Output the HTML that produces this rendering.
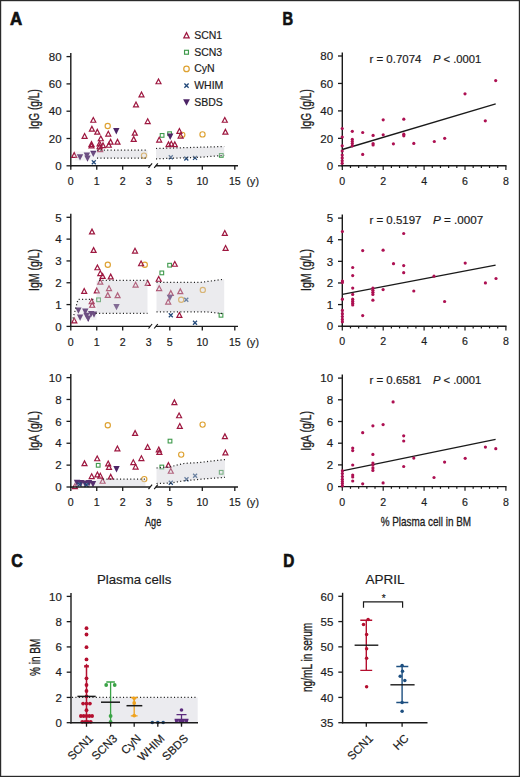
<!DOCTYPE html>
<html><head><meta charset="utf-8"><style>
html,body{margin:0;padding:0;background:#fff;}
body{width:520px;height:777px;overflow:hidden;}
svg{display:block;}
text{font-family:"Liberation Sans", sans-serif;fill:#1c1c1c;stroke:#1c1c1c;stroke-width:0.18px;}
text.cond{stroke:#1c1c1c;stroke-width:0.3px;}
text.pl{stroke:#111;stroke-width:0.7px;fill:#111;}
</style></head><body>
<svg width="520" height="777" viewBox="0 0 520 777">
<rect x="0" y="0" width="520" height="777" fill="#fff"/>
<text x="10.0" y="24.9" font-size="17.8" font-weight="bold" class="pl" textLength="12.2" lengthAdjust="spacingAndGlyphs">A</text>
<text x="282.4" y="24.9" font-size="17.8" font-weight="bold" class="pl" textLength="10.6" lengthAdjust="spacingAndGlyphs">B</text>
<text x="11.3" y="567.2" font-size="17.8" font-weight="bold" class="pl" textLength="11.5" lengthAdjust="spacingAndGlyphs">C</text>
<text x="283.2" y="567.2" font-size="17.8" font-weight="bold" class="pl" textLength="11.1" lengthAdjust="spacingAndGlyphs">D</text>
<path d="M70.8,53.10V166.5" stroke="#1a1a1a" stroke-width="1.4" fill="none"/>
<path d="M66.5,56.60H70.8" stroke="#1a1a1a" stroke-width="1.3"/>
<text x="61.60" y="60.80" font-size="11.5" text-anchor="end" >80</text>
<path d="M66.5,83.90H70.8" stroke="#1a1a1a" stroke-width="1.3"/>
<text x="61.60" y="88.10" font-size="11.5" text-anchor="end" >60</text>
<path d="M66.5,111.20H70.8" stroke="#1a1a1a" stroke-width="1.3"/>
<text x="61.60" y="115.40" font-size="11.5" text-anchor="end" >40</text>
<path d="M66.5,138.50H70.8" stroke="#1a1a1a" stroke-width="1.3"/>
<text x="61.60" y="142.70" font-size="11.5" text-anchor="end" >20</text>
<path d="M66.5,165.80H70.8" stroke="#1a1a1a" stroke-width="1.3"/>
<text x="61.60" y="170.00" font-size="11.5" text-anchor="end" >0</text>
<text x="0" y="0" font-size="14" text-anchor="middle" textLength="40" lengthAdjust="spacingAndGlyphs" class="cond" transform="translate(38.6,109.2) rotate(-90)">IgG (g/L)</text>
<rect x="160.25" y="133.55" width="3.7" height="3.7" fill="none" stroke="#3f9a4c" stroke-width="1.1"/>
<rect x="167.75" y="131.85" width="3.7" height="3.7" fill="none" stroke="#3f9a4c" stroke-width="1.1"/>
<rect x="219.45" y="153.55" width="3.7" height="3.7" fill="none" stroke="#3f9a4c" stroke-width="1.1"/>
<circle cx="107.70" cy="126.00" r="2.6" fill="none" stroke="#dea232" stroke-width="1.15"/>
<circle cx="144.00" cy="155.60" r="2.6" fill="none" stroke="#dea232" stroke-width="1.15"/>
<circle cx="202.50" cy="134.40" r="2.6" fill="none" stroke="#dea232" stroke-width="1.15"/>
<circle cx="182.30" cy="134.80" r="2.6" fill="none" stroke="#dea232" stroke-width="1.15"/>
<polygon points="90.80,122.25 95.80,122.25 93.30,117.45" fill="none" stroke="#9e1840" stroke-width="1.2" stroke-linejoin="miter"/>
<polygon points="89.40,131.15 94.40,131.15 91.90,126.35" fill="none" stroke="#9e1840" stroke-width="1.2" stroke-linejoin="miter"/>
<polygon points="94.80,134.15 99.80,134.15 97.30,129.35" fill="none" stroke="#9e1840" stroke-width="1.2" stroke-linejoin="miter"/>
<polygon points="82.10,138.35 87.10,138.35 84.60,133.55" fill="none" stroke="#9e1840" stroke-width="1.2" stroke-linejoin="miter"/>
<polygon points="105.80,136.05 110.80,136.05 108.30,131.25" fill="none" stroke="#9e1840" stroke-width="1.2" stroke-linejoin="miter"/>
<polygon points="98.30,140.75 103.30,140.75 100.80,135.95" fill="none" stroke="#9e1840" stroke-width="1.2" stroke-linejoin="miter"/>
<polygon points="108.10,144.15 113.10,144.15 110.60,139.35" fill="none" stroke="#9e1840" stroke-width="1.2" stroke-linejoin="miter"/>
<polygon points="115.00,144.15 120.00,144.15 117.50,139.35" fill="none" stroke="#9e1840" stroke-width="1.2" stroke-linejoin="miter"/>
<polygon points="89.00,146.45 94.00,146.45 91.50,141.65" fill="none" stroke="#9e1840" stroke-width="1.2" stroke-linejoin="miter"/>
<polygon points="89.00,147.95 94.00,147.95 91.50,143.15" fill="none" stroke="#9e1840" stroke-width="1.2" stroke-linejoin="miter"/>
<polygon points="97.10,145.85 102.10,145.85 99.60,141.05" fill="none" stroke="#9e1840" stroke-width="1.2" stroke-linejoin="miter"/>
<polygon points="97.10,148.75 102.10,148.75 99.60,143.95" fill="none" stroke="#9e1840" stroke-width="1.2" stroke-linejoin="miter"/>
<polygon points="100.50,147.65 105.50,147.65 103.00,142.85" fill="none" stroke="#9e1840" stroke-width="1.2" stroke-linejoin="miter"/>
<polygon points="106.30,147.25 111.30,147.25 108.80,142.45" fill="none" stroke="#9e1840" stroke-width="1.2" stroke-linejoin="miter"/>
<polygon points="97.70,151.65 102.70,151.65 100.20,146.85" fill="none" stroke="#9e1840" stroke-width="1.2" stroke-linejoin="miter"/>
<polygon points="71.70,157.45 76.70,157.45 74.20,152.65" fill="none" stroke="#9e1840" stroke-width="1.2" stroke-linejoin="miter"/>
<polygon points="132.30,135.15 137.30,135.15 134.80,130.35" fill="none" stroke="#9e1840" stroke-width="1.2" stroke-linejoin="miter"/>
<polygon points="131.20,141.45 136.20,141.45 133.70,136.65" fill="none" stroke="#9e1840" stroke-width="1.2" stroke-linejoin="miter"/>
<polygon points="145.20,123.55 150.20,123.55 147.70,118.75" fill="none" stroke="#9e1840" stroke-width="1.2" stroke-linejoin="miter"/>
<polygon points="139.00,96.85 144.00,96.85 141.50,92.05" fill="none" stroke="#9e1840" stroke-width="1.2" stroke-linejoin="miter"/>
<polygon points="133.50,106.85 138.50,106.85 136.00,102.05" fill="none" stroke="#9e1840" stroke-width="1.2" stroke-linejoin="miter"/>
<polygon points="156.00,83.75 161.00,83.75 158.50,78.95" fill="none" stroke="#9e1840" stroke-width="1.2" stroke-linejoin="miter"/>
<polygon points="156.70,142.05 161.70,142.05 159.20,137.25" fill="none" stroke="#9e1840" stroke-width="1.2" stroke-linejoin="miter"/>
<polygon points="166.00,146.65 171.00,146.65 168.50,141.85" fill="none" stroke="#9e1840" stroke-width="1.2" stroke-linejoin="miter"/>
<polygon points="168.80,146.05 173.80,146.05 171.30,141.25" fill="none" stroke="#9e1840" stroke-width="1.2" stroke-linejoin="miter"/>
<polygon points="172.30,146.65 177.30,146.65 174.80,141.85" fill="none" stroke="#9e1840" stroke-width="1.2" stroke-linejoin="miter"/>
<polygon points="176.90,133.35 181.90,133.35 179.40,128.55" fill="none" stroke="#9e1840" stroke-width="1.2" stroke-linejoin="miter"/>
<polygon points="178.10,138.05 183.10,138.05 180.60,133.25" fill="none" stroke="#9e1840" stroke-width="1.2" stroke-linejoin="miter"/>
<polygon points="222.30,122.25 227.30,122.25 224.80,117.45" fill="none" stroke="#9e1840" stroke-width="1.2" stroke-linejoin="miter"/>
<polygon points="222.90,134.15 227.90,134.15 225.40,129.35" fill="none" stroke="#9e1840" stroke-width="1.2" stroke-linejoin="miter"/>
<path d="M91.80,160.30L95.80,164.30M95.80,160.30L91.80,164.30" stroke="#22497a" stroke-width="1.25"/>
<path d="M168.80,155.30L172.80,159.30M172.80,155.30L168.80,159.30" stroke="#22497a" stroke-width="1.25"/>
<path d="M184.30,156.50L188.30,160.50M188.30,156.50L184.30,160.50" stroke="#22497a" stroke-width="1.25"/>
<path d="M193.00,155.90L197.00,159.90M197.00,155.90L193.00,159.90" stroke="#22497a" stroke-width="1.25"/>
<polygon points="113.10,128.10 119.50,128.10 116.30,134.40" fill="#4d2466"/>
<polygon points="90.10,150.80 96.50,150.80 93.30,157.10" fill="#4d2466"/>
<polygon points="83.70,152.50 90.10,152.50 86.90,158.80" fill="#4d2466"/>
<polygon points="76.80,154.20 83.20,154.20 80.00,160.50" fill="#4d2466"/>
<polygon points="84.30,155.40 90.70,155.40 87.50,161.70" fill="#4d2466"/>
<polygon points="167.00,133.60 173.40,133.60 170.20,139.90" fill="#4d2466"/>
<path d="M75,151.5H96.5V160.5H75Z" fill="#cfcfd6" fill-opacity="0.25"/>
<path d="M96.5,150.2H147.5V158.2H96.5Z" fill="#cfcfd6" fill-opacity="0.42"/>
<path d="M156,148.5L224.2,146.5V155.4L201.2,157.2L156,158.8Z" fill="#cfcfd6" fill-opacity="0.42"/>
<path d="M97,150.2H147.5M97,158.2H147.5" stroke-dasharray="1.1,2.3" stroke="#222" stroke-width="1.25" fill="none"/>
<path d="M156,148.5L224.2,146.5M156,158.8L201.2,157.2L224.2,155.4" stroke-dasharray="1.1,2.3" stroke="#222" stroke-width="1.25" fill="none"/>
<path d="M70.1,165.8H150" stroke="#1a1a1a" stroke-width="1.4" fill="none"/>
<path d="M155.8,165.8H238" stroke="#1a1a1a" stroke-width="1.4" fill="none"/>
<path d="M148.5,167.9L152.1,163.4M154.2,167.9L157.8,163.4" stroke="#1a1a1a" stroke-width="1.2" fill="none"/>
<path d="M70.80,165.8V169.8" stroke="#1a1a1a" stroke-width="1.3"/>
<path d="M96.75,165.8V169.8" stroke="#1a1a1a" stroke-width="1.3"/>
<path d="M122.70,165.8V169.8" stroke="#1a1a1a" stroke-width="1.3"/>
<path d="M169.80,165.8V169.8" stroke="#1a1a1a" stroke-width="1.3"/>
<path d="M202.30,165.8V169.8" stroke="#1a1a1a" stroke-width="1.3"/>
<path d="M234.80,165.8V169.8" stroke="#1a1a1a" stroke-width="1.3"/>
<text x="70.80" y="184.9" font-size="10.6" text-anchor="middle" >0</text>
<text x="96.75" y="184.9" font-size="10.6" text-anchor="middle" >1</text>
<text x="122.70" y="184.9" font-size="10.6" text-anchor="middle" >2</text>
<text x="148.65" y="184.9" font-size="10.6" text-anchor="middle" >3</text>
<text x="169.80" y="184.9" font-size="10.6" text-anchor="middle" >5</text>
<text x="202.30" y="184.9" font-size="10.6" text-anchor="middle" >10</text>
<text x="234.80" y="184.9" font-size="10.6" text-anchor="middle" >15</text>
<text x="246.6" y="184.9" font-size="10.6" text-anchor="start" >(y)</text>
<g transform="translate(186.5,35.6) scale(1.06) translate(-186.5,-35.6)"><polygon points="184.00,37.65 189.00,37.65 186.50,32.85" fill="none" stroke="#9e1840" stroke-width="1.2" stroke-linejoin="miter"/></g>
<text x="194.2" y="39.1" font-size="10.5" text-anchor="start" >SCN1</text>
<g transform="translate(186.5,52.2) scale(1.06) translate(-186.5,-52.2)"><rect x="184.65" y="50.40" width="3.7" height="3.7" fill="none" stroke="#3f9a4c" stroke-width="1.1"/></g>
<text x="194.2" y="55.8" font-size="10.5" text-anchor="start" >SCN3</text>
<g transform="translate(186.5,68.9) scale(1.06) translate(-186.5,-68.9)"><circle cx="186.50" cy="68.90" r="2.6" fill="none" stroke="#dea232" stroke-width="1.15"/></g>
<text x="194.2" y="72.4" font-size="10.5" text-anchor="start" >CyN</text>
<g transform="translate(186.5,85.5) scale(1.06) translate(-186.5,-85.5)"><path d="M184.50,83.55L188.50,87.55M188.50,83.55L184.50,87.55" stroke="#22497a" stroke-width="1.25"/></g>
<text x="194.2" y="89.0" font-size="10.5" text-anchor="start" >WHIM</text>
<g transform="translate(186.5,102.2) scale(1.06) translate(-186.5,-102.2)"><polygon points="183.30,99.30 189.70,99.30 186.50,105.60" fill="#4d2466"/></g>
<text x="194.2" y="105.7" font-size="10.5" text-anchor="start" >SBDS</text>
<path d="M70.8,213.80V327.09999999999997" stroke="#1a1a1a" stroke-width="1.4" fill="none"/>
<path d="M66.5,217.30H70.8" stroke="#1a1a1a" stroke-width="1.3"/>
<text x="61.60" y="221.50" font-size="11.5" text-anchor="end" >5</text>
<path d="M66.5,239.12H70.8" stroke="#1a1a1a" stroke-width="1.3"/>
<text x="61.60" y="243.32" font-size="11.5" text-anchor="end" >4</text>
<path d="M66.5,260.94H70.8" stroke="#1a1a1a" stroke-width="1.3"/>
<text x="61.60" y="265.14" font-size="11.5" text-anchor="end" >3</text>
<path d="M66.5,282.76H70.8" stroke="#1a1a1a" stroke-width="1.3"/>
<text x="61.60" y="286.96" font-size="11.5" text-anchor="end" >2</text>
<path d="M66.5,304.58H70.8" stroke="#1a1a1a" stroke-width="1.3"/>
<text x="61.60" y="308.78" font-size="11.5" text-anchor="end" >1</text>
<path d="M66.5,326.40H70.8" stroke="#1a1a1a" stroke-width="1.3"/>
<text x="61.60" y="330.60" font-size="11.5" text-anchor="end" >0</text>
<text x="0" y="0" font-size="14" text-anchor="middle" textLength="42" lengthAdjust="spacingAndGlyphs" class="cond" transform="translate(38.6,270.0) rotate(-90)">IgM (g/L)</text>
<rect x="96.75" y="297.95" width="3.7" height="3.7" fill="none" stroke="#3f9a4c" stroke-width="1.1"/>
<rect x="167.75" y="263.35" width="3.7" height="3.7" fill="none" stroke="#3f9a4c" stroke-width="1.1"/>
<rect x="159.95" y="271.05" width="3.7" height="3.7" fill="none" stroke="#3f9a4c" stroke-width="1.1"/>
<rect x="219.15" y="313.45" width="3.7" height="3.7" fill="none" stroke="#3f9a4c" stroke-width="1.1"/>
<circle cx="107.80" cy="264.80" r="2.6" fill="none" stroke="#dea232" stroke-width="1.15"/>
<circle cx="144.80" cy="264.80" r="2.6" fill="none" stroke="#dea232" stroke-width="1.15"/>
<circle cx="181.20" cy="299.80" r="2.6" fill="none" stroke="#dea232" stroke-width="1.15"/>
<circle cx="202.80" cy="289.90" r="2.6" fill="none" stroke="#dea232" stroke-width="1.15"/>
<polygon points="89.50,233.95 94.50,233.95 92.00,229.15" fill="none" stroke="#9e1840" stroke-width="1.2" stroke-linejoin="miter"/>
<polygon points="91.10,252.45 96.10,252.45 93.60,247.65" fill="none" stroke="#9e1840" stroke-width="1.2" stroke-linejoin="miter"/>
<polygon points="94.90,269.75 99.90,269.75 97.40,264.95" fill="none" stroke="#9e1840" stroke-width="1.2" stroke-linejoin="miter"/>
<polygon points="97.80,275.55 102.80,275.55 100.30,270.75" fill="none" stroke="#9e1840" stroke-width="1.2" stroke-linejoin="miter"/>
<polygon points="100.10,278.35 105.10,278.35 102.60,273.55" fill="none" stroke="#9e1840" stroke-width="1.2" stroke-linejoin="miter"/>
<polygon points="108.20,278.95 113.20,278.95 110.70,274.15" fill="none" stroke="#9e1840" stroke-width="1.2" stroke-linejoin="miter"/>
<polygon points="81.70,293.35 86.70,293.35 84.20,288.55" fill="none" stroke="#9e1840" stroke-width="1.2" stroke-linejoin="miter"/>
<polygon points="94.30,292.85 99.30,292.85 96.80,288.05" fill="none" stroke="#9e1840" stroke-width="1.2" stroke-linejoin="miter"/>
<polygon points="106.50,290.55 111.50,290.55 109.00,285.75" fill="none" stroke="#9e1840" stroke-width="1.2" stroke-linejoin="miter"/>
<polygon points="105.30,297.45 110.30,297.45 107.80,292.65" fill="none" stroke="#9e1840" stroke-width="1.2" stroke-linejoin="miter"/>
<polygon points="115.10,297.65 120.10,297.65 117.60,292.85" fill="none" stroke="#9e1840" stroke-width="1.2" stroke-linejoin="miter"/>
<polygon points="97.80,284.15 102.80,284.15 100.30,279.35" fill="none" stroke="#9e1840" stroke-width="1.2" stroke-linejoin="miter"/>
<polygon points="89.20,303.75 94.20,303.75 91.70,298.95" fill="none" stroke="#9e1840" stroke-width="1.2" stroke-linejoin="miter"/>
<polygon points="89.70,307.25 94.70,307.25 92.20,302.45" fill="none" stroke="#9e1840" stroke-width="1.2" stroke-linejoin="miter"/>
<polygon points="71.80,322.85 76.80,322.85 74.30,318.05" fill="none" stroke="#9e1840" stroke-width="1.2" stroke-linejoin="miter"/>
<polygon points="132.50,253.05 137.50,253.05 135.00,248.25" fill="none" stroke="#9e1840" stroke-width="1.2" stroke-linejoin="miter"/>
<polygon points="138.60,265.75 143.60,265.75 141.10,260.95" fill="none" stroke="#9e1840" stroke-width="1.2" stroke-linejoin="miter"/>
<polygon points="172.30,266.25 177.30,266.25 174.80,261.45" fill="none" stroke="#9e1840" stroke-width="1.2" stroke-linejoin="miter"/>
<polygon points="156.20,281.25 161.20,281.25 158.70,276.45" fill="none" stroke="#9e1840" stroke-width="1.2" stroke-linejoin="miter"/>
<polygon points="145.20,285.35 150.20,285.35 147.70,280.55" fill="none" stroke="#9e1840" stroke-width="1.2" stroke-linejoin="miter"/>
<polygon points="133.10,287.05 138.10,287.05 135.60,282.25" fill="none" stroke="#9e1840" stroke-width="1.2" stroke-linejoin="miter"/>
<polygon points="156.70,290.55 161.70,290.55 159.20,285.75" fill="none" stroke="#9e1840" stroke-width="1.2" stroke-linejoin="miter"/>
<polygon points="168.30,295.45 173.30,295.45 170.80,290.65" fill="none" stroke="#9e1840" stroke-width="1.2" stroke-linejoin="miter"/>
<polygon points="177.80,293.65 182.80,293.65 180.30,288.85" fill="none" stroke="#9e1840" stroke-width="1.2" stroke-linejoin="miter"/>
<polygon points="165.70,304.05 170.70,304.05 168.20,299.25" fill="none" stroke="#9e1840" stroke-width="1.2" stroke-linejoin="miter"/>
<polygon points="176.90,317.35 181.90,317.35 179.40,312.55" fill="none" stroke="#9e1840" stroke-width="1.2" stroke-linejoin="miter"/>
<polygon points="222.30,235.35 227.30,235.35 224.80,230.55" fill="none" stroke="#9e1840" stroke-width="1.2" stroke-linejoin="miter"/>
<polygon points="223.10,250.35 228.10,250.35 225.60,245.55" fill="none" stroke="#9e1840" stroke-width="1.2" stroke-linejoin="miter"/>
<path d="M184.30,297.80L188.30,301.80M188.30,297.80L184.30,301.80" stroke="#22497a" stroke-width="1.25"/>
<path d="M168.80,313.30L172.80,317.30M172.80,313.30L168.80,317.30" stroke="#22497a" stroke-width="1.25"/>
<path d="M193.00,320.80L197.00,324.80M197.00,320.80L193.00,324.80" stroke="#22497a" stroke-width="1.25"/>
<polygon points="113.30,304.00 119.70,304.00 116.50,310.30" fill="#4d2466"/>
<polygon points="75.20,307.50 81.60,307.50 78.40,313.80" fill="#4d2466"/>
<polygon points="82.10,308.60 88.50,308.60 85.30,314.90" fill="#4d2466"/>
<polygon points="83.30,312.70 89.70,312.70 86.50,319.00" fill="#4d2466"/>
<polygon points="87.90,310.90 94.30,310.90 91.10,317.20" fill="#4d2466"/>
<polygon points="90.80,311.50 97.20,311.50 94.00,317.80" fill="#4d2466"/>
<polygon points="76.90,314.40 83.30,314.40 80.10,320.70" fill="#4d2466"/>
<polygon points="85.00,315.60 91.40,315.60 88.20,321.90" fill="#4d2466"/>
<polygon points="166.70,294.80 173.10,294.80 169.90,301.10" fill="#4d2466"/>
<path d="M73,320L78,299.4H96.5V320Z" fill="#cfcfd6" fill-opacity="0.25"/>
<path d="M96.5,280.4H147.5V313.3H96.5Z" fill="#cfcfd6" fill-opacity="0.42"/>
<path d="M156.5,282.3H201.2L224.2,279.2V313.8L205.8,311.8H156.5Z" fill="#cfcfd6" fill-opacity="0.42"/>
<path d="M73,318.5L78,299.4H95.5M99,280.4H147.5M95.7,313.3H147.5" stroke-dasharray="1.1,2.3" stroke="#222" stroke-width="1.25" fill="none"/>
<path d="M156.5,282.3H201.2L224.2,279.2M156.5,311.8H205.8L224.2,313.8" stroke-dasharray="1.1,2.3" stroke="#222" stroke-width="1.25" fill="none"/>
<path d="M70.1,326.4H150" stroke="#1a1a1a" stroke-width="1.4" fill="none"/>
<path d="M155.8,326.4H238" stroke="#1a1a1a" stroke-width="1.4" fill="none"/>
<path d="M148.5,328.5L152.1,324.0M154.2,328.5L157.8,324.0" stroke="#1a1a1a" stroke-width="1.2" fill="none"/>
<path d="M70.80,326.4V330.4" stroke="#1a1a1a" stroke-width="1.3"/>
<path d="M96.75,326.4V330.4" stroke="#1a1a1a" stroke-width="1.3"/>
<path d="M122.70,326.4V330.4" stroke="#1a1a1a" stroke-width="1.3"/>
<path d="M169.80,326.4V330.4" stroke="#1a1a1a" stroke-width="1.3"/>
<path d="M202.30,326.4V330.4" stroke="#1a1a1a" stroke-width="1.3"/>
<path d="M234.80,326.4V330.4" stroke="#1a1a1a" stroke-width="1.3"/>
<text x="70.80" y="345.5" font-size="10.6" text-anchor="middle" >0</text>
<text x="96.75" y="345.5" font-size="10.6" text-anchor="middle" >1</text>
<text x="122.70" y="345.5" font-size="10.6" text-anchor="middle" >2</text>
<text x="148.65" y="345.5" font-size="10.6" text-anchor="middle" >3</text>
<text x="169.80" y="345.5" font-size="10.6" text-anchor="middle" >5</text>
<text x="202.30" y="345.5" font-size="10.6" text-anchor="middle" >10</text>
<text x="234.80" y="345.5" font-size="10.6" text-anchor="middle" >15</text>
<text x="246.6" y="345.5" font-size="10.6" text-anchor="start" >(y)</text>
<path d="M70.8,374.10V487.7" stroke="#1a1a1a" stroke-width="1.4" fill="none"/>
<path d="M66.5,377.60H70.8" stroke="#1a1a1a" stroke-width="1.3"/>
<text x="61.60" y="381.80" font-size="11.5" text-anchor="end" >10</text>
<path d="M66.5,399.48H70.8" stroke="#1a1a1a" stroke-width="1.3"/>
<text x="61.60" y="403.68" font-size="11.5" text-anchor="end" >8</text>
<path d="M66.5,421.36H70.8" stroke="#1a1a1a" stroke-width="1.3"/>
<text x="61.60" y="425.56" font-size="11.5" text-anchor="end" >6</text>
<path d="M66.5,443.24H70.8" stroke="#1a1a1a" stroke-width="1.3"/>
<text x="61.60" y="447.44" font-size="11.5" text-anchor="end" >4</text>
<path d="M66.5,465.12H70.8" stroke="#1a1a1a" stroke-width="1.3"/>
<text x="61.60" y="469.32" font-size="11.5" text-anchor="end" >2</text>
<path d="M66.5,487.00H70.8" stroke="#1a1a1a" stroke-width="1.3"/>
<text x="61.60" y="491.20" font-size="11.5" text-anchor="end" >0</text>
<text x="0" y="0" font-size="14" text-anchor="middle" textLength="39.7" lengthAdjust="spacingAndGlyphs" class="cond" transform="translate(38.6,430.8) rotate(-90)">IgA (g/L)</text>
<rect x="96.35" y="463.45" width="3.7" height="3.7" fill="none" stroke="#3f9a4c" stroke-width="1.1"/>
<rect x="168.15" y="439.25" width="3.7" height="3.7" fill="none" stroke="#3f9a4c" stroke-width="1.1"/>
<rect x="159.95" y="465.15" width="3.7" height="3.7" fill="none" stroke="#3f9a4c" stroke-width="1.1"/>
<rect x="219.35" y="470.45" width="3.7" height="3.7" fill="none" stroke="#3f9a4c" stroke-width="1.1"/>
<circle cx="107.80" cy="425.20" r="2.6" fill="none" stroke="#dea232" stroke-width="1.15"/>
<circle cx="202.60" cy="424.60" r="2.6" fill="none" stroke="#dea232" stroke-width="1.15"/>
<circle cx="181.20" cy="454.60" r="2.6" fill="none" stroke="#dea232" stroke-width="1.15"/>
<circle cx="144.30" cy="479.10" r="2.6" fill="none" stroke="#dea232" stroke-width="1.15"/>
<polygon points="114.90,450.85 119.90,450.85 117.40,446.05" fill="none" stroke="#9e1840" stroke-width="1.2" stroke-linejoin="miter"/>
<polygon points="94.70,460.75 99.70,460.75 97.20,455.95" fill="none" stroke="#9e1840" stroke-width="1.2" stroke-linejoin="miter"/>
<polygon points="82.00,465.65 87.00,465.65 84.50,460.85" fill="none" stroke="#9e1840" stroke-width="1.2" stroke-linejoin="miter"/>
<polygon points="105.70,465.85 110.70,465.85 108.20,461.05" fill="none" stroke="#9e1840" stroke-width="1.2" stroke-linejoin="miter"/>
<polygon points="106.50,469.35 111.50,469.35 109.00,464.55" fill="none" stroke="#9e1840" stroke-width="1.2" stroke-linejoin="miter"/>
<polygon points="89.20,478.55 94.20,478.55 91.70,473.75" fill="none" stroke="#9e1840" stroke-width="1.2" stroke-linejoin="miter"/>
<polygon points="94.90,476.85 99.90,476.85 97.40,472.05" fill="none" stroke="#9e1840" stroke-width="1.2" stroke-linejoin="miter"/>
<polygon points="97.80,478.05 102.80,478.05 100.30,473.25" fill="none" stroke="#9e1840" stroke-width="1.2" stroke-linejoin="miter"/>
<polygon points="108.20,479.15 113.20,479.15 110.70,474.35" fill="none" stroke="#9e1840" stroke-width="1.2" stroke-linejoin="miter"/>
<polygon points="100.10,483.25 105.10,483.25 102.60,478.45" fill="none" stroke="#9e1840" stroke-width="1.2" stroke-linejoin="miter"/>
<polygon points="72.40,488.55 77.40,488.55 74.90,483.75" fill="none" stroke="#9e1840" stroke-width="1.2" stroke-linejoin="miter"/>
<polygon points="171.90,404.65 176.90,404.65 174.40,399.85" fill="none" stroke="#9e1840" stroke-width="1.2" stroke-linejoin="miter"/>
<polygon points="176.60,417.75 181.60,417.75 179.10,412.95" fill="none" stroke="#9e1840" stroke-width="1.2" stroke-linejoin="miter"/>
<polygon points="177.30,428.35 182.30,428.35 179.80,423.55" fill="none" stroke="#9e1840" stroke-width="1.2" stroke-linejoin="miter"/>
<polygon points="132.60,435.45 137.60,435.45 135.10,430.65" fill="none" stroke="#9e1840" stroke-width="1.2" stroke-linejoin="miter"/>
<polygon points="145.10,449.35 150.10,449.35 147.60,444.55" fill="none" stroke="#9e1840" stroke-width="1.2" stroke-linejoin="miter"/>
<polygon points="156.30,451.85 161.30,451.85 158.80,447.05" fill="none" stroke="#9e1840" stroke-width="1.2" stroke-linejoin="miter"/>
<polygon points="156.90,454.45 161.90,454.45 159.40,449.65" fill="none" stroke="#9e1840" stroke-width="1.2" stroke-linejoin="miter"/>
<polygon points="138.90,460.55 143.90,460.55 141.40,455.75" fill="none" stroke="#9e1840" stroke-width="1.2" stroke-linejoin="miter"/>
<polygon points="130.80,464.55 135.80,464.55 133.30,459.75" fill="none" stroke="#9e1840" stroke-width="1.2" stroke-linejoin="miter"/>
<polygon points="133.10,469.05 138.10,469.05 135.60,464.25" fill="none" stroke="#9e1840" stroke-width="1.2" stroke-linejoin="miter"/>
<polygon points="165.90,467.45 170.90,467.45 168.40,462.65" fill="none" stroke="#9e1840" stroke-width="1.2" stroke-linejoin="miter"/>
<polygon points="168.30,473.25 173.30,473.25 170.80,468.45" fill="none" stroke="#9e1840" stroke-width="1.2" stroke-linejoin="miter"/>
<polygon points="222.40,438.65 227.40,438.65 224.90,433.85" fill="none" stroke="#9e1840" stroke-width="1.2" stroke-linejoin="miter"/>
<polygon points="222.90,454.85 227.90,454.85 225.40,450.05" fill="none" stroke="#9e1840" stroke-width="1.2" stroke-linejoin="miter"/>
<path d="M168.80,480.80L172.80,484.80M172.80,480.80L168.80,484.80" stroke="#22497a" stroke-width="1.25"/>
<path d="M184.50,477.20L188.50,481.20M188.50,477.20L184.50,481.20" stroke="#22497a" stroke-width="1.25"/>
<path d="M193.10,473.80L197.10,477.80M197.10,473.80L193.10,477.80" stroke="#22497a" stroke-width="1.25"/>
<polygon points="113.30,466.10 119.70,466.10 116.50,472.40" fill="#4d2466"/>
<path d="M74,480.5H96.5V486.3H74Z" fill="#cfcfd6" fill-opacity="0.42"/>
<path d="M96.5,479.2H145.5V486.3H96.5Z" fill="#cfcfd6" fill-opacity="0.42"/>
<path d="M156.5,468L169,467L184,463.5L201,462.3L225,459.5V477.4L201,479.2L184,480.8L170,483.1L156.5,483.5Z" fill="#cfcfd6" fill-opacity="0.42"/>
<path d="M103,479.2H145.5" stroke-dasharray="1.1,2.3" stroke="#222" stroke-width="1.25" fill="none"/>
<polygon points="73.80,479.80 80.20,479.80 77.00,486.10" fill="#56306f"/>
<polygon points="77.80,480.10 84.20,480.10 81.00,486.40" fill="#56306f"/>
<polygon points="81.80,480.60 88.20,480.60 85.00,486.90" fill="#56306f"/>
<polygon points="85.80,480.10 92.20,480.10 89.00,486.40" fill="#56306f"/>
<polygon points="89.80,481.10 96.20,481.10 93.00,487.40" fill="#56306f"/>
<path d="M77.50,482.50L81.50,486.50M81.50,482.50L77.50,486.50" stroke="#22497a" stroke-width="1.25"/>
<path d="M84.50,483.00L88.50,487.00M88.50,483.00L84.50,487.00" stroke="#22497a" stroke-width="1.25"/>
<path d="M156.5,468L169,467L184,463.5L201,462.3L225,459.5M156.5,483.5L170,483.1L184,480.8L201,479.2L225,477.4" stroke-dasharray="1.1,2.3" stroke="#222" stroke-width="1.25" fill="none"/>
<path d="M70.1,487.0H150" stroke="#1a1a1a" stroke-width="1.4" fill="none"/>
<path d="M155.8,487.0H238" stroke="#1a1a1a" stroke-width="1.4" fill="none"/>
<path d="M148.5,489.1L152.1,484.6M154.2,489.1L157.8,484.6" stroke="#1a1a1a" stroke-width="1.2" fill="none"/>
<path d="M70.80,487.0V491.0" stroke="#1a1a1a" stroke-width="1.3"/>
<path d="M96.75,487.0V491.0" stroke="#1a1a1a" stroke-width="1.3"/>
<path d="M122.70,487.0V491.0" stroke="#1a1a1a" stroke-width="1.3"/>
<path d="M169.80,487.0V491.0" stroke="#1a1a1a" stroke-width="1.3"/>
<path d="M202.30,487.0V491.0" stroke="#1a1a1a" stroke-width="1.3"/>
<path d="M234.80,487.0V491.0" stroke="#1a1a1a" stroke-width="1.3"/>
<text x="70.80" y="506.1" font-size="10.6" text-anchor="middle" >0</text>
<text x="96.75" y="506.1" font-size="10.6" text-anchor="middle" >1</text>
<text x="122.70" y="506.1" font-size="10.6" text-anchor="middle" >2</text>
<text x="148.65" y="506.1" font-size="10.6" text-anchor="middle" >3</text>
<text x="169.80" y="506.1" font-size="10.6" text-anchor="middle" >5</text>
<text x="202.30" y="506.1" font-size="10.6" text-anchor="middle" >10</text>
<text x="234.80" y="506.1" font-size="10.6" text-anchor="middle" >15</text>
<text x="246.6" y="506.1" font-size="10.6" text-anchor="start" >(y)</text>
<text x="153.1" y="525.8" font-size="13" text-anchor="middle" textLength="16.2" lengthAdjust="spacingAndGlyphs" class="cond">Age</text>
<path d="M342.3,52.50V166.5" stroke="#1a1a1a" stroke-width="1.4" fill="none"/>
<path d="M338.0,56.00H342.3" stroke="#1a1a1a" stroke-width="1.3"/>
<text x="333.10" y="60.20" font-size="11.5" text-anchor="end" >80</text>
<path d="M338.0,83.45H342.3" stroke="#1a1a1a" stroke-width="1.3"/>
<text x="333.10" y="87.65" font-size="11.5" text-anchor="end" >60</text>
<path d="M338.0,110.90H342.3" stroke="#1a1a1a" stroke-width="1.3"/>
<text x="333.10" y="115.10" font-size="11.5" text-anchor="end" >40</text>
<path d="M338.0,138.35H342.3" stroke="#1a1a1a" stroke-width="1.3"/>
<text x="333.10" y="142.55" font-size="11.5" text-anchor="end" >20</text>
<path d="M338.0,165.80H342.3" stroke="#1a1a1a" stroke-width="1.3"/>
<text x="333.10" y="170.00" font-size="11.5" text-anchor="end" >0</text>
<path d="M341.6,165.8H506.5" stroke="#1a1a1a" stroke-width="1.4" fill="none"/>
<path d="M342.30,165.8V170.0" stroke="#1a1a1a" stroke-width="1.2"/>
<path d="M350.48,165.8V168.0" stroke="#1a1a1a" stroke-width="1.2"/>
<path d="M358.66,165.8V168.0" stroke="#1a1a1a" stroke-width="1.2"/>
<path d="M366.84,165.8V168.0" stroke="#1a1a1a" stroke-width="1.2"/>
<path d="M375.02,165.8V168.0" stroke="#1a1a1a" stroke-width="1.2"/>
<path d="M383.20,165.8V170.0" stroke="#1a1a1a" stroke-width="1.2"/>
<path d="M391.38,165.8V168.0" stroke="#1a1a1a" stroke-width="1.2"/>
<path d="M399.56,165.8V168.0" stroke="#1a1a1a" stroke-width="1.2"/>
<path d="M407.74,165.8V168.0" stroke="#1a1a1a" stroke-width="1.2"/>
<path d="M415.92,165.8V168.0" stroke="#1a1a1a" stroke-width="1.2"/>
<path d="M424.10,165.8V170.0" stroke="#1a1a1a" stroke-width="1.2"/>
<path d="M432.28,165.8V168.0" stroke="#1a1a1a" stroke-width="1.2"/>
<path d="M440.46,165.8V168.0" stroke="#1a1a1a" stroke-width="1.2"/>
<path d="M448.64,165.8V168.0" stroke="#1a1a1a" stroke-width="1.2"/>
<path d="M456.82,165.8V168.0" stroke="#1a1a1a" stroke-width="1.2"/>
<path d="M465.00,165.8V170.0" stroke="#1a1a1a" stroke-width="1.2"/>
<path d="M473.18,165.8V168.0" stroke="#1a1a1a" stroke-width="1.2"/>
<path d="M481.36,165.8V168.0" stroke="#1a1a1a" stroke-width="1.2"/>
<path d="M489.54,165.8V168.0" stroke="#1a1a1a" stroke-width="1.2"/>
<path d="M497.72,165.8V168.0" stroke="#1a1a1a" stroke-width="1.2"/>
<path d="M505.90,165.8V170.0" stroke="#1a1a1a" stroke-width="1.2"/>
<text x="342.30" y="184.9" font-size="10.6" text-anchor="middle" >0</text>
<text x="383.20" y="184.9" font-size="10.6" text-anchor="middle" >2</text>
<text x="424.10" y="184.9" font-size="10.6" text-anchor="middle" >4</text>
<text x="465.00" y="184.9" font-size="10.6" text-anchor="middle" >6</text>
<text x="505.90" y="184.9" font-size="10.6" text-anchor="middle" >8</text>
<text x="0" y="0" font-size="14" text-anchor="middle" textLength="40" lengthAdjust="spacingAndGlyphs" class="cond" transform="translate(310.6,109.2) rotate(-90)">IgG (g/L)</text>
<text x="369.5" y="62.8" font-size="10.5" text-anchor="start" textLength="51.9" lengthAdjust="spacingAndGlyphs" >r = 0.7074</text><text x="432.9" y="62.8" font-size="10.5" textLength="48.5" lengthAdjust="spacingAndGlyphs"><tspan font-style="italic">P</tspan> &lt; .0001</text>
<path d="M342.3,149.5L495.7,103.9" stroke="#1a1a1a" stroke-width="1.35"/>
<circle cx="342.20" cy="128.50" r="1.6" fill="#ad1052"/>
<circle cx="342.20" cy="137.10" r="1.6" fill="#ad1052"/>
<circle cx="342.20" cy="145.80" r="1.6" fill="#ad1052"/>
<circle cx="342.20" cy="151.00" r="1.6" fill="#ad1052"/>
<circle cx="342.20" cy="155.00" r="1.6" fill="#ad1052"/>
<circle cx="342.20" cy="157.90" r="1.6" fill="#ad1052"/>
<circle cx="342.20" cy="160.80" r="1.6" fill="#ad1052"/>
<circle cx="342.20" cy="163.30" r="1.6" fill="#ad1052"/>
<circle cx="352.30" cy="131.30" r="1.6" fill="#ad1052"/>
<circle cx="352.30" cy="139.40" r="1.6" fill="#ad1052"/>
<circle cx="352.30" cy="141.50" r="1.6" fill="#ad1052"/>
<circle cx="352.30" cy="143.60" r="1.6" fill="#ad1052"/>
<circle cx="352.30" cy="145.80" r="1.6" fill="#ad1052"/>
<circle cx="362.70" cy="132.50" r="1.6" fill="#ad1052"/>
<circle cx="362.70" cy="154.40" r="1.6" fill="#ad1052"/>
<circle cx="373.10" cy="135.40" r="1.6" fill="#ad1052"/>
<circle cx="373.10" cy="143.50" r="1.6" fill="#ad1052"/>
<circle cx="373.10" cy="145.00" r="1.6" fill="#ad1052"/>
<circle cx="383.20" cy="119.80" r="1.6" fill="#ad1052"/>
<circle cx="383.20" cy="134.80" r="1.6" fill="#ad1052"/>
<circle cx="393.40" cy="143.80" r="1.6" fill="#ad1052"/>
<circle cx="403.80" cy="119.20" r="1.6" fill="#ad1052"/>
<circle cx="403.80" cy="134.20" r="1.6" fill="#ad1052"/>
<circle cx="403.80" cy="135.80" r="1.6" fill="#ad1052"/>
<circle cx="413.80" cy="143.40" r="1.6" fill="#ad1052"/>
<circle cx="434.30" cy="141.50" r="1.6" fill="#ad1052"/>
<circle cx="444.70" cy="138.30" r="1.6" fill="#ad1052"/>
<circle cx="465.00" cy="93.80" r="1.6" fill="#ad1052"/>
<circle cx="485.30" cy="120.80" r="1.6" fill="#ad1052"/>
<circle cx="495.70" cy="80.60" r="1.6" fill="#ad1052"/>
<path d="M342.3,214.60V326.9" stroke="#1a1a1a" stroke-width="1.4" fill="none"/>
<path d="M338.0,218.10H342.3" stroke="#1a1a1a" stroke-width="1.3"/>
<text x="333.10" y="222.30" font-size="11.5" text-anchor="end" >5</text>
<path d="M338.0,239.72H342.3" stroke="#1a1a1a" stroke-width="1.3"/>
<text x="333.10" y="243.92" font-size="11.5" text-anchor="end" >4</text>
<path d="M338.0,261.34H342.3" stroke="#1a1a1a" stroke-width="1.3"/>
<text x="333.10" y="265.54" font-size="11.5" text-anchor="end" >3</text>
<path d="M338.0,282.96H342.3" stroke="#1a1a1a" stroke-width="1.3"/>
<text x="333.10" y="287.16" font-size="11.5" text-anchor="end" >2</text>
<path d="M338.0,304.58H342.3" stroke="#1a1a1a" stroke-width="1.3"/>
<text x="333.10" y="308.78" font-size="11.5" text-anchor="end" >1</text>
<path d="M338.0,326.20H342.3" stroke="#1a1a1a" stroke-width="1.3"/>
<text x="333.10" y="330.40" font-size="11.5" text-anchor="end" >0</text>
<path d="M341.6,326.2H506.5" stroke="#1a1a1a" stroke-width="1.4" fill="none"/>
<path d="M342.30,326.2V330.4" stroke="#1a1a1a" stroke-width="1.2"/>
<path d="M350.48,326.2V328.4" stroke="#1a1a1a" stroke-width="1.2"/>
<path d="M358.66,326.2V328.4" stroke="#1a1a1a" stroke-width="1.2"/>
<path d="M366.84,326.2V328.4" stroke="#1a1a1a" stroke-width="1.2"/>
<path d="M375.02,326.2V328.4" stroke="#1a1a1a" stroke-width="1.2"/>
<path d="M383.20,326.2V330.4" stroke="#1a1a1a" stroke-width="1.2"/>
<path d="M391.38,326.2V328.4" stroke="#1a1a1a" stroke-width="1.2"/>
<path d="M399.56,326.2V328.4" stroke="#1a1a1a" stroke-width="1.2"/>
<path d="M407.74,326.2V328.4" stroke="#1a1a1a" stroke-width="1.2"/>
<path d="M415.92,326.2V328.4" stroke="#1a1a1a" stroke-width="1.2"/>
<path d="M424.10,326.2V330.4" stroke="#1a1a1a" stroke-width="1.2"/>
<path d="M432.28,326.2V328.4" stroke="#1a1a1a" stroke-width="1.2"/>
<path d="M440.46,326.2V328.4" stroke="#1a1a1a" stroke-width="1.2"/>
<path d="M448.64,326.2V328.4" stroke="#1a1a1a" stroke-width="1.2"/>
<path d="M456.82,326.2V328.4" stroke="#1a1a1a" stroke-width="1.2"/>
<path d="M465.00,326.2V330.4" stroke="#1a1a1a" stroke-width="1.2"/>
<path d="M473.18,326.2V328.4" stroke="#1a1a1a" stroke-width="1.2"/>
<path d="M481.36,326.2V328.4" stroke="#1a1a1a" stroke-width="1.2"/>
<path d="M489.54,326.2V328.4" stroke="#1a1a1a" stroke-width="1.2"/>
<path d="M497.72,326.2V328.4" stroke="#1a1a1a" stroke-width="1.2"/>
<path d="M505.90,326.2V330.4" stroke="#1a1a1a" stroke-width="1.2"/>
<text x="342.30" y="345.3" font-size="10.6" text-anchor="middle" >0</text>
<text x="383.20" y="345.3" font-size="10.6" text-anchor="middle" >2</text>
<text x="424.10" y="345.3" font-size="10.6" text-anchor="middle" >4</text>
<text x="465.00" y="345.3" font-size="10.6" text-anchor="middle" >6</text>
<text x="505.90" y="345.3" font-size="10.6" text-anchor="middle" >8</text>
<text x="0" y="0" font-size="14" text-anchor="middle" textLength="42" lengthAdjust="spacingAndGlyphs" class="cond" transform="translate(310.6,270.0) rotate(-90)">IgM (g/L)</text>
<text x="369.5" y="223.8" font-size="10.5" text-anchor="start" textLength="51.9" lengthAdjust="spacingAndGlyphs" >r = 0.5197</text><text x="432.9" y="223.8" font-size="10.5" textLength="50.3" lengthAdjust="spacingAndGlyphs"><tspan font-style="italic">P</tspan> = .0007</text>
<path d="M342.3,294.4L495.6,265.2" stroke="#1a1a1a" stroke-width="1.35"/>
<circle cx="342.40" cy="231.50" r="1.6" fill="#ad1052"/>
<circle cx="342.40" cy="281.00" r="1.6" fill="#ad1052"/>
<circle cx="342.40" cy="282.60" r="1.6" fill="#ad1052"/>
<circle cx="342.40" cy="299.20" r="1.6" fill="#ad1052"/>
<circle cx="342.40" cy="310.40" r="1.6" fill="#ad1052"/>
<circle cx="342.40" cy="313.70" r="1.6" fill="#ad1052"/>
<circle cx="342.40" cy="316.50" r="1.6" fill="#ad1052"/>
<circle cx="342.40" cy="319.40" r="1.6" fill="#ad1052"/>
<circle cx="342.40" cy="321.80" r="1.6" fill="#ad1052"/>
<circle cx="352.70" cy="267.50" r="1.6" fill="#ad1052"/>
<circle cx="352.70" cy="275.60" r="1.6" fill="#ad1052"/>
<circle cx="352.70" cy="288.10" r="1.6" fill="#ad1052"/>
<circle cx="352.70" cy="294.40" r="1.6" fill="#ad1052"/>
<circle cx="352.70" cy="299.20" r="1.6" fill="#ad1052"/>
<circle cx="352.70" cy="301.20" r="1.6" fill="#ad1052"/>
<circle cx="352.70" cy="303.20" r="1.6" fill="#ad1052"/>
<circle cx="352.70" cy="305.00" r="1.6" fill="#ad1052"/>
<circle cx="362.70" cy="250.60" r="1.6" fill="#ad1052"/>
<circle cx="362.70" cy="315.60" r="1.6" fill="#ad1052"/>
<circle cx="372.90" cy="288.20" r="1.6" fill="#ad1052"/>
<circle cx="372.90" cy="290.30" r="1.6" fill="#ad1052"/>
<circle cx="372.90" cy="292.30" r="1.6" fill="#ad1052"/>
<circle cx="372.90" cy="294.40" r="1.6" fill="#ad1052"/>
<circle cx="372.90" cy="300.20" r="1.6" fill="#ad1052"/>
<circle cx="383.10" cy="250.20" r="1.6" fill="#ad1052"/>
<circle cx="383.10" cy="289.60" r="1.6" fill="#ad1052"/>
<circle cx="393.50" cy="263.70" r="1.6" fill="#ad1052"/>
<circle cx="403.70" cy="233.50" r="1.6" fill="#ad1052"/>
<circle cx="403.70" cy="265.60" r="1.6" fill="#ad1052"/>
<circle cx="403.70" cy="272.70" r="1.6" fill="#ad1052"/>
<circle cx="413.80" cy="291.00" r="1.6" fill="#ad1052"/>
<circle cx="434.00" cy="276.20" r="1.6" fill="#ad1052"/>
<circle cx="444.60" cy="301.50" r="1.6" fill="#ad1052"/>
<circle cx="465.20" cy="263.10" r="1.6" fill="#ad1052"/>
<circle cx="485.40" cy="282.90" r="1.6" fill="#ad1052"/>
<circle cx="496.00" cy="278.50" r="1.6" fill="#ad1052"/>
<path d="M342.3,374.60V487.3" stroke="#1a1a1a" stroke-width="1.4" fill="none"/>
<path d="M338.0,378.10H342.3" stroke="#1a1a1a" stroke-width="1.3"/>
<text x="333.10" y="382.30" font-size="11.5" text-anchor="end" >10</text>
<path d="M338.0,399.80H342.3" stroke="#1a1a1a" stroke-width="1.3"/>
<text x="333.10" y="404.00" font-size="11.5" text-anchor="end" >8</text>
<path d="M338.0,421.50H342.3" stroke="#1a1a1a" stroke-width="1.3"/>
<text x="333.10" y="425.70" font-size="11.5" text-anchor="end" >6</text>
<path d="M338.0,443.20H342.3" stroke="#1a1a1a" stroke-width="1.3"/>
<text x="333.10" y="447.40" font-size="11.5" text-anchor="end" >4</text>
<path d="M338.0,464.90H342.3" stroke="#1a1a1a" stroke-width="1.3"/>
<text x="333.10" y="469.10" font-size="11.5" text-anchor="end" >2</text>
<path d="M338.0,486.60H342.3" stroke="#1a1a1a" stroke-width="1.3"/>
<text x="333.10" y="490.80" font-size="11.5" text-anchor="end" >0</text>
<path d="M341.6,486.6H506.5" stroke="#1a1a1a" stroke-width="1.4" fill="none"/>
<path d="M342.30,486.6V490.8" stroke="#1a1a1a" stroke-width="1.2"/>
<path d="M350.48,486.6V488.8" stroke="#1a1a1a" stroke-width="1.2"/>
<path d="M358.66,486.6V488.8" stroke="#1a1a1a" stroke-width="1.2"/>
<path d="M366.84,486.6V488.8" stroke="#1a1a1a" stroke-width="1.2"/>
<path d="M375.02,486.6V488.8" stroke="#1a1a1a" stroke-width="1.2"/>
<path d="M383.20,486.6V490.8" stroke="#1a1a1a" stroke-width="1.2"/>
<path d="M391.38,486.6V488.8" stroke="#1a1a1a" stroke-width="1.2"/>
<path d="M399.56,486.6V488.8" stroke="#1a1a1a" stroke-width="1.2"/>
<path d="M407.74,486.6V488.8" stroke="#1a1a1a" stroke-width="1.2"/>
<path d="M415.92,486.6V488.8" stroke="#1a1a1a" stroke-width="1.2"/>
<path d="M424.10,486.6V490.8" stroke="#1a1a1a" stroke-width="1.2"/>
<path d="M432.28,486.6V488.8" stroke="#1a1a1a" stroke-width="1.2"/>
<path d="M440.46,486.6V488.8" stroke="#1a1a1a" stroke-width="1.2"/>
<path d="M448.64,486.6V488.8" stroke="#1a1a1a" stroke-width="1.2"/>
<path d="M456.82,486.6V488.8" stroke="#1a1a1a" stroke-width="1.2"/>
<path d="M465.00,486.6V490.8" stroke="#1a1a1a" stroke-width="1.2"/>
<path d="M473.18,486.6V488.8" stroke="#1a1a1a" stroke-width="1.2"/>
<path d="M481.36,486.6V488.8" stroke="#1a1a1a" stroke-width="1.2"/>
<path d="M489.54,486.6V488.8" stroke="#1a1a1a" stroke-width="1.2"/>
<path d="M497.72,486.6V488.8" stroke="#1a1a1a" stroke-width="1.2"/>
<path d="M505.90,486.6V490.8" stroke="#1a1a1a" stroke-width="1.2"/>
<text x="342.30" y="505.7" font-size="10.6" text-anchor="middle" >0</text>
<text x="383.20" y="505.7" font-size="10.6" text-anchor="middle" >2</text>
<text x="424.10" y="505.7" font-size="10.6" text-anchor="middle" >4</text>
<text x="465.00" y="505.7" font-size="10.6" text-anchor="middle" >6</text>
<text x="505.90" y="505.7" font-size="10.6" text-anchor="middle" >8</text>
<text x="0" y="0" font-size="14" text-anchor="middle" textLength="39.7" lengthAdjust="spacingAndGlyphs" class="cond" transform="translate(310.6,430.8) rotate(-90)">IgA (g/L)</text>
<text x="369.5" y="384.3" font-size="10.5" text-anchor="start" textLength="51.9" lengthAdjust="spacingAndGlyphs" >r = 0.6581</text><text x="432.9" y="384.3" font-size="10.5" textLength="48.5" lengthAdjust="spacingAndGlyphs"><tspan font-style="italic">P</tspan> &lt; .0001</text>
<path d="M342.3,470.8L495.6,439.4" stroke="#1a1a1a" stroke-width="1.35"/>
<circle cx="342.40" cy="470.80" r="1.6" fill="#ad1052"/>
<circle cx="342.40" cy="473.50" r="1.6" fill="#ad1052"/>
<circle cx="342.40" cy="476.50" r="1.6" fill="#ad1052"/>
<circle cx="342.40" cy="479.30" r="1.6" fill="#ad1052"/>
<circle cx="342.40" cy="481.50" r="1.6" fill="#ad1052"/>
<circle cx="342.40" cy="483.50" r="1.6" fill="#ad1052"/>
<circle cx="342.40" cy="485.80" r="1.6" fill="#ad1052"/>
<circle cx="352.70" cy="448.00" r="1.6" fill="#ad1052"/>
<circle cx="352.70" cy="450.60" r="1.6" fill="#ad1052"/>
<circle cx="352.70" cy="465.00" r="1.6" fill="#ad1052"/>
<circle cx="352.70" cy="475.00" r="1.6" fill="#ad1052"/>
<circle cx="352.70" cy="477.00" r="1.6" fill="#ad1052"/>
<circle cx="352.70" cy="481.00" r="1.6" fill="#ad1052"/>
<circle cx="362.70" cy="432.70" r="1.6" fill="#ad1052"/>
<circle cx="362.70" cy="483.80" r="1.6" fill="#ad1052"/>
<circle cx="372.90" cy="425.80" r="1.6" fill="#ad1052"/>
<circle cx="372.90" cy="454.40" r="1.6" fill="#ad1052"/>
<circle cx="372.90" cy="463.00" r="1.6" fill="#ad1052"/>
<circle cx="372.90" cy="465.00" r="1.6" fill="#ad1052"/>
<circle cx="372.90" cy="467.90" r="1.6" fill="#ad1052"/>
<circle cx="372.90" cy="470.40" r="1.6" fill="#ad1052"/>
<circle cx="383.10" cy="424.60" r="1.6" fill="#ad1052"/>
<circle cx="383.10" cy="482.90" r="1.6" fill="#ad1052"/>
<circle cx="393.10" cy="401.90" r="1.6" fill="#ad1052"/>
<circle cx="403.70" cy="435.80" r="1.6" fill="#ad1052"/>
<circle cx="403.70" cy="441.00" r="1.6" fill="#ad1052"/>
<circle cx="403.70" cy="466.50" r="1.6" fill="#ad1052"/>
<circle cx="413.80" cy="458.10" r="1.6" fill="#ad1052"/>
<circle cx="434.00" cy="477.50" r="1.6" fill="#ad1052"/>
<circle cx="444.60" cy="462.10" r="1.6" fill="#ad1052"/>
<circle cx="465.20" cy="458.30" r="1.6" fill="#ad1052"/>
<circle cx="485.40" cy="447.10" r="1.6" fill="#ad1052"/>
<circle cx="495.80" cy="448.70" r="1.6" fill="#ad1052"/>
<text x="425.9" y="526.3" font-size="12.8" text-anchor="middle" textLength="90.5" lengthAdjust="spacingAndGlyphs" class="cond">% Plasma cell in BM</text>
<text x="134.1" y="583.9" font-size="13.2" text-anchor="middle" textLength="74.4" lengthAdjust="spacingAndGlyphs" >Plasma cells</text>
<path d="M72,697.44H197.7V722.7H72Z" fill="#ebebef"/>
<path d="M72,697.44H197.7" stroke-dasharray="1.1,2.3" stroke="#222" stroke-width="1.25" fill="none"/>
<path d="M71.0,592.90V723.4000000000001" stroke="#1a1a1a" stroke-width="1.4" fill="none"/>
<path d="M66.7,596.40H71.0" stroke="#1a1a1a" stroke-width="1.3"/>
<text x="61.80" y="600.60" font-size="11.5" text-anchor="end" >10</text>
<path d="M66.7,621.66H71.0" stroke="#1a1a1a" stroke-width="1.3"/>
<text x="61.80" y="625.86" font-size="11.5" text-anchor="end" >8</text>
<path d="M66.7,646.92H71.0" stroke="#1a1a1a" stroke-width="1.3"/>
<text x="61.80" y="651.12" font-size="11.5" text-anchor="end" >6</text>
<path d="M66.7,672.18H71.0" stroke="#1a1a1a" stroke-width="1.3"/>
<text x="61.80" y="676.38" font-size="11.5" text-anchor="end" >4</text>
<path d="M66.7,697.44H71.0" stroke="#1a1a1a" stroke-width="1.3"/>
<text x="61.80" y="701.64" font-size="11.5" text-anchor="end" >2</text>
<path d="M66.7,722.70H71.0" stroke="#1a1a1a" stroke-width="1.3"/>
<text x="61.80" y="726.90" font-size="11.5" text-anchor="end" >0</text>
<text x="0" y="0" font-size="14" text-anchor="middle" textLength="37.2" lengthAdjust="spacingAndGlyphs" class="cond" transform="translate(40.0,657.4) rotate(-90)">% in BM</text>
<path d="M86.5,666V722.7M84.0,666H89.0" stroke="#b40f2f" stroke-width="1.5"/>
<path d="M86.5,663.5L83.9,667.5H89.1Z" fill="#b40f2f"/>
<circle cx="86.50" cy="628.20" r="1.9" fill="#b40f2f"/>
<circle cx="86.50" cy="634.50" r="1.9" fill="#b40f2f"/>
<circle cx="86.50" cy="647.20" r="1.9" fill="#b40f2f"/>
<circle cx="86.50" cy="659.40" r="1.9" fill="#b40f2f"/>
<circle cx="86.50" cy="678.30" r="1.9" fill="#b40f2f"/>
<circle cx="86.50" cy="685.00" r="1.9" fill="#b40f2f"/>
<circle cx="86.50" cy="691.00" r="1.9" fill="#b40f2f"/>
<circle cx="86.50" cy="696.40" r="1.9" fill="#b40f2f"/>
<circle cx="86.50" cy="710.20" r="1.9" fill="#b40f2f"/>
<circle cx="83.10" cy="703.60" r="1.9" fill="#b40f2f"/>
<circle cx="86.50" cy="703.60" r="1.9" fill="#b40f2f"/>
<circle cx="89.90" cy="703.60" r="1.9" fill="#b40f2f"/>
<circle cx="80.90" cy="716.00" r="1.9" fill="#b40f2f"/>
<circle cx="83.70" cy="716.00" r="1.9" fill="#b40f2f"/>
<circle cx="86.50" cy="716.00" r="1.9" fill="#b40f2f"/>
<circle cx="89.30" cy="716.00" r="1.9" fill="#b40f2f"/>
<circle cx="92.10" cy="716.00" r="1.9" fill="#b40f2f"/>
<circle cx="82.30" cy="721.80" r="1.9" fill="#b40f2f"/>
<circle cx="85.10" cy="721.80" r="1.9" fill="#b40f2f"/>
<circle cx="87.90" cy="721.80" r="1.9" fill="#b40f2f"/>
<circle cx="90.70" cy="721.80" r="1.9" fill="#b40f2f"/>
<path d="M77.4,696.4H95.7" stroke="#1a1a1a" stroke-width="1.5"/>
<path d="M110.6,682V722.7M106.3,682H114.89999999999999" stroke="#3aa346" stroke-width="1.3"/>
<circle cx="106.20" cy="685.00" r="1.9" fill="#3aa346"/>
<circle cx="114.70" cy="685.00" r="1.9" fill="#3aa346"/>
<circle cx="110.60" cy="716.00" r="1.9" fill="#3aa346"/>
<circle cx="110.60" cy="722.00" r="1.9" fill="#3aa346"/>
<path d="M101,702.2H120" stroke="#1a1a1a" stroke-width="1.5"/>
<path d="M134.2,697.5V715.8M130.79999999999998,697.5H137.6M130.79999999999998,715.8H137.6" stroke="#efa21e" stroke-width="1.3"/>
<path d="M131.2,697.3H137.2L134.2,701.3Z" fill="#efa21e"/>
<circle cx="134.20" cy="703.00" r="1.9" fill="#efa21e"/>
<circle cx="134.20" cy="715.60" r="1.9" fill="#efa21e"/>
<path d="M126.5,705.7H142.3" stroke="#1a1a1a" stroke-width="1.5"/>
<circle cx="152.30" cy="722.50" r="1.8" fill="#1d4f80"/>
<circle cx="157.80" cy="722.50" r="1.8" fill="#1d4f80"/>
<circle cx="163.20" cy="722.50" r="1.8" fill="#1d4f80"/>
<circle cx="181.50" cy="710.00" r="1.8" fill="#5b2a7c"/>
<path d="M181.5,714.6V724.7M176.5,714.6H186.5" stroke="#5b2a7c" stroke-width="1.3"/>
<path d="M174.6,719.5H188.5" stroke="#5b2a7c" stroke-width="1.5"/>
<circle cx="176.50" cy="720.80" r="1.7" fill="#5b2a7c"/>
<circle cx="179.80" cy="720.80" r="1.7" fill="#5b2a7c"/>
<circle cx="183.20" cy="720.80" r="1.7" fill="#5b2a7c"/>
<circle cx="186.50" cy="720.80" r="1.7" fill="#5b2a7c"/>
<path d="M70.3,722.7H198" stroke="#1a1a1a" stroke-width="1.4"/>
<path d="M86.5,722.7V726.7" stroke="#1a1a1a" stroke-width="1.3"/>
<path d="M110.6,722.7V726.7" stroke="#1a1a1a" stroke-width="1.3"/>
<path d="M134.2,722.7V726.7" stroke="#1a1a1a" stroke-width="1.3"/>
<path d="M157.8,722.7V726.7" stroke="#1a1a1a" stroke-width="1.3"/>
<path d="M181.5,722.7V726.7" stroke="#1a1a1a" stroke-width="1.3"/>
<text x="0" y="0" font-size="11.5" text-anchor="end" transform="translate(93.9,739.1) rotate(-45)">SCN1</text>
<text x="0" y="0" font-size="11.5" text-anchor="end" transform="translate(118.0,739.1) rotate(-45)">SCN3</text>
<text x="0" y="0" font-size="11.5" text-anchor="end" transform="translate(141.6,739.1) rotate(-45)">CyN</text>
<text x="0" y="0" font-size="11.5" text-anchor="end" transform="translate(165.20000000000002,739.1) rotate(-45)">WHIM</text>
<text x="0" y="0" font-size="11.5" text-anchor="end" transform="translate(188.9,739.1) rotate(-45)">SBDS</text>
<text x="385" y="584.2" font-size="13.5" text-anchor="middle" textLength="39" lengthAdjust="spacingAndGlyphs" >APRIL</text>
<path d="M342.6,592.80V723.4000000000001" stroke="#1a1a1a" stroke-width="1.4" fill="none"/>
<path d="M338.3,596.30H342.6" stroke="#1a1a1a" stroke-width="1.3"/>
<text x="333.40" y="600.50" font-size="11.5" text-anchor="end" >60</text>
<path d="M338.3,621.58H342.6" stroke="#1a1a1a" stroke-width="1.3"/>
<text x="333.40" y="625.78" font-size="11.5" text-anchor="end" >55</text>
<path d="M338.3,646.86H342.6" stroke="#1a1a1a" stroke-width="1.3"/>
<text x="333.40" y="651.06" font-size="11.5" text-anchor="end" >50</text>
<path d="M338.3,672.14H342.6" stroke="#1a1a1a" stroke-width="1.3"/>
<text x="333.40" y="676.34" font-size="11.5" text-anchor="end" >45</text>
<path d="M338.3,697.42H342.6" stroke="#1a1a1a" stroke-width="1.3"/>
<text x="333.40" y="701.62" font-size="11.5" text-anchor="end" >40</text>
<path d="M338.3,722.70H342.6" stroke="#1a1a1a" stroke-width="1.3"/>
<text x="333.40" y="726.90" font-size="11.5" text-anchor="end" >35</text>
<text x="0" y="0" font-size="13.8" text-anchor="middle" textLength="69.4" lengthAdjust="spacingAndGlyphs" class="cond" transform="translate(311.9,657.4) rotate(-90)">ng/mL in serum</text>
<path d="M363.5,607.8V601.8H402.6V607.8" stroke="#1a1a1a" stroke-width="1.2" fill="none"/>
<text x="383.6" y="601.5" font-size="10" text-anchor="middle">*</text>
<path d="M366.3,620.2V670.4M360.3,620.2H372.2M360.3,670.4H372.2" stroke="#b40f2f" stroke-width="1.4"/>
<circle cx="368.10" cy="619.60" r="1.75" fill="#b40f2f"/>
<circle cx="363.50" cy="624.40" r="1.75" fill="#b40f2f"/>
<circle cx="366.60" cy="634.40" r="1.75" fill="#b40f2f"/>
<circle cx="366.60" cy="648.80" r="1.75" fill="#b40f2f"/>
<circle cx="366.60" cy="658.30" r="1.75" fill="#b40f2f"/>
<circle cx="366.60" cy="686.80" r="1.75" fill="#b40f2f"/>
<path d="M354.6,645.2H378.3" stroke="#1a1a1a" stroke-width="1.4"/>
<path d="M402.1,666.5V702.5M396.3,666.5H408.3M396.3,702.5H408.3" stroke="#1d4f80" stroke-width="1.4"/>
<circle cx="402.10" cy="665.60" r="1.75" fill="#1d4f80"/>
<circle cx="402.50" cy="671.30" r="1.75" fill="#1d4f80"/>
<circle cx="400.20" cy="676.20" r="1.75" fill="#1d4f80"/>
<circle cx="404.80" cy="680.40" r="1.75" fill="#1d4f80"/>
<circle cx="402.10" cy="702.50" r="1.75" fill="#1d4f80"/>
<circle cx="402.10" cy="711.20" r="1.75" fill="#1d4f80"/>
<path d="M390.4,684.8H414.6" stroke="#1a1a1a" stroke-width="1.4"/>
<path d="M341.90000000000003,722.7H427.5" stroke="#1a1a1a" stroke-width="1.4"/>
<path d="M366.3,722.7V726.7" stroke="#1a1a1a" stroke-width="1.3"/>
<path d="M402.1,722.7V726.7" stroke="#1a1a1a" stroke-width="1.3"/>
<text x="0" y="0" font-size="11.5" text-anchor="end" transform="translate(373.7,739.1) rotate(-45)">SCN1</text>
<text x="0" y="0" font-size="11.5" text-anchor="end" transform="translate(409.5,739.1) rotate(-45)">HC</text>
<rect x="0.6" y="0.6" width="518.8" height="775.8" fill="none" stroke="#2a2a2a" stroke-width="1.2"/>
</svg>
</body></html>
